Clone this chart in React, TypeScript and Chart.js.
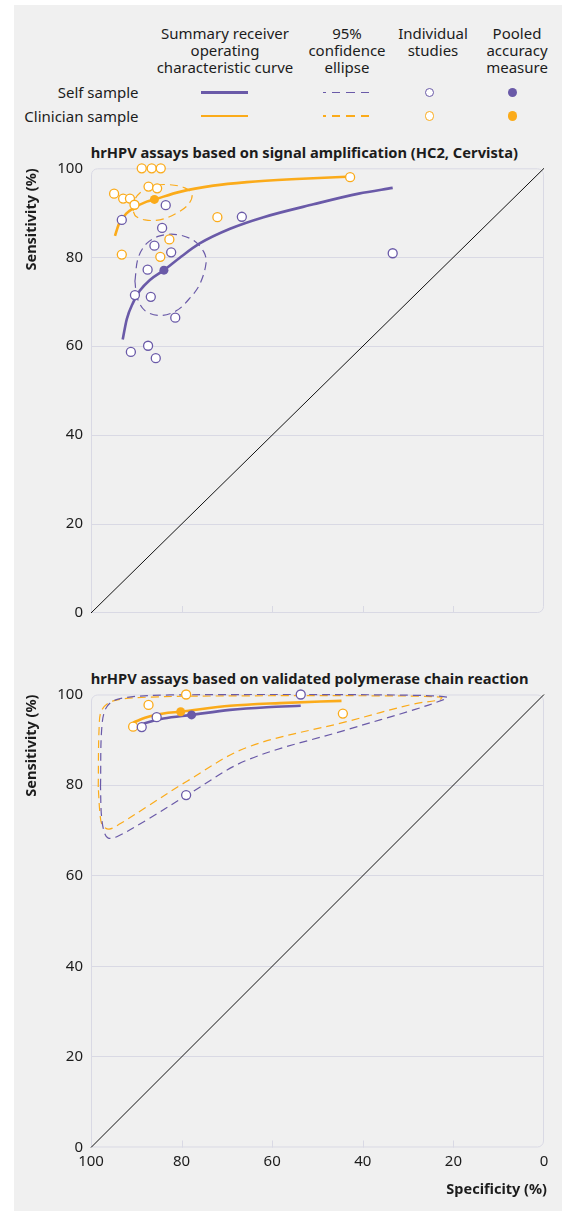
import React, { useEffect, useRef } from "react";
import { Chart, registerables } from "chart.js";

Chart.register(...registerables);

const FONT = "'Noto Sans', sans-serif";
const PURPLE = "#6a5aa8";
const ORANGE = "#fbab1a";
const GRID = "#d9d9e4";
const TEXT = "#1c1c1c";

// ---------- axis ticks ----------
const Y_TICKS_STEP = 20;
const X_INNER_TICKS = [80, 60, 40, 20];

// ---------- chance diagonal ----------
const DIAG_SPEC = [100, 0];
const DIAG_SENS = [0, 100];

// ---------- Panel 1: signal amplification ----------
const SA_CLIN_STUDY_SPEC = [88.8, 86.6, 84.6, 87.3, 85.4, 94.9, 92.9, 91.4, 90.4, 93.2, 82.7, 84.7, 72.1, 42.8];
const SA_CLIN_STUDY_SENS = [100, 100, 100, 95.9, 95.5, 94.3, 93.2, 93.2, 91.8, 80.6, 84.0, 80.1, 89.0, 98.0];
const SA_SELF_STUDY_SPEC = [83.5, 93.2, 66.7, 84.3, 86.0, 82.3, 33.4, 87.5, 90.3, 86.8, 81.4, 91.2, 87.4, 85.7];
const SA_SELF_STUDY_SENS = [91.7, 88.4, 89.1, 86.6, 82.6, 81.1, 80.9, 77.2, 71.5, 71.1, 66.4, 58.7, 60.1, 57.3];
const SA_CLIN_POOLED = [86.0, 93.0];
const SA_SELF_POOLED = [83.9, 77.1];
const SA_CLIN_SROC_SPEC = [94.7, 93.8, 92.1, 90.7, 87.7, 86.0, 80.4, 73.0, 65.6, 54.6, 43.6];
const SA_CLIN_SROC_SENS = [84.8, 87.6, 89.9, 91.0, 92.5, 93.0, 94.7, 96.1, 96.9, 97.6, 98.1];
const SA_SELF_SROC_SPEC = [93.0, 92.1, 90.7, 89.2, 87.0, 83.9, 80.4, 76.0, 69.3, 61.9, 50.9, 40.9, 33.4];
const SA_SELF_SROC_SENS = [61.5, 66.1, 69.8, 72.5, 74.9, 77.1, 79.9, 83.1, 86.4, 89.0, 91.9, 94.3, 95.6];
const SA_CLIN_ELL_SPEC = [90.7, 90.3, 88.8, 86.2, 82.6, 79.3, 77.7, 78.5, 81.1, 84.8, 88.1, 90.1, 90.7];
const SA_CLIN_ELL_SENS = [90.4, 93.0, 94.8, 96.1, 96.3, 95.6, 94.1, 91.9, 89.9, 88.4, 88.4, 89.2, 90.4];
const SA_SELF_ELL_SPEC = [90.3, 89.6, 87.7, 84.8, 81.1, 77.4, 75.1, 74.6, 76.0, 78.1, 81.1, 84.8, 88.1, 89.8, 90.3];
const SA_SELF_ELL_SENS = [74.6, 79.8, 83.1, 84.8, 85.1, 83.8, 81.2, 78.7, 73.9, 70.9, 68.0, 66.9, 68.0, 70.9, 74.6];

// ---------- Panel 2: validated PCR ----------
const PCR_CLIN_STUDY_SPEC = [79.0, 87.3, 90.7, 44.4];
const PCR_CLIN_STUDY_SENS = [100, 97.7, 92.9, 95.8];
const PCR_SELF_STUDY_SPEC = [53.7, 85.5, 88.8, 79.0];
const PCR_SELF_STUDY_SENS = [100, 95.0, 92.8, 77.8];
const PCR_CLIN_POOLED = [80.2, 96.2];
const PCR_SELF_POOLED = [77.8, 95.5];
const PCR_CLIN_SROC_SPEC = [90.7, 87.7, 84.0, 80.2, 69.3, 58.3, 44.7];
const PCR_CLIN_SROC_SENS = [93.8, 95.0, 95.8, 96.2, 97.5, 98.1, 98.6];
const PCR_SELF_SROC_SPEC = [88.8, 84.0, 77.8, 69.3, 61.2, 53.7];
const PCR_SELF_SROC_SENS = [93.5, 94.7, 95.5, 96.6, 97.2, 97.5];
const PCR_CLIN_ELL_SPEC = [98.4, 98.2, 97.6, 95.1, 87.7, 65.6, 36.2, 22.6, 23.2, 28.8, 43.6, 65.6, 78.9, 87.7, 93.5, 96.0, 97.5, 98.0, 98.4];
const PCR_CLIN_ELL_SENS = [79.6, 92.9, 96.6, 98.6, 99.4, 99.7, 99.7, 99.4, 98.8, 97.9, 94.0, 88.3, 80.8, 75.2, 71.5, 70.3, 71.2, 73.5, 79.6];
const PCR_SELF_ELL_SPEC = [97.9, 97.6, 96.5, 93.6, 82.6, 53.9, 27.4, 21.3, 22.3, 28.8, 43.6, 65.6, 78.1, 87.7, 94.3, 96.2, 97.1, 97.7, 97.9];
const PCR_SELF_ELL_SENS = [79.6, 92.9, 97.3, 99.1, 99.9, 100, 99.8, 99.4, 98.8, 96.6, 92.2, 85.5, 78.2, 72.3, 68.6, 68.3, 69.7, 73.4, 79.6];

const pts = (xs: number[], ys: number[]) => xs.map((x, i) => ({ x, y: ys[i] }));

const framePlugin = {
  id: "frame",
  beforeDatasetsDraw(chart: any) {
    const { ctx, chartArea: a, scales } = chart;
    const x = scales.x;
    ctx.save();
    ctx.strokeStyle = GRID;
    ctx.lineWidth = 1;
    ctx.beginPath();
    (ctx as any).roundRect(a.left + 0.5, a.top + 0.5, a.right - a.left - 1, a.bottom - a.top - 1, [6, 6, 6, 0]);
    ctx.stroke();
    ctx.beginPath();
    for (const v of X_INNER_TICKS) {
      const px = Math.round(x.getPixelForValue(v)) + 0.5;
      ctx.moveTo(px, a.bottom);
      ctx.lineTo(px, a.bottom - 7);
    }
    ctx.stroke();
    ctx.restore();
  },
};

interface Panel {
  clinStudy: [number[], number[]];
  selfStudy: [number[], number[]];
  clinPooled: number[];
  selfPooled: number[];
  clinSroc: [number[], number[]];
  selfSroc: [number[], number[]];
  clinEll: [number[], number[]];
  selfEll: [number[], number[]];
}

function buildConfig(p: Panel, showX: boolean): any {
  const lineBase = { showLine: true, pointRadius: 0, clip: false, fill: false };
  return {
    type: "scatter",
    data: {
      datasets: [
        { data: [{ x: p.selfPooled[0], y: p.selfPooled[1] }], backgroundColor: PURPLE, borderWidth: 0, pointRadius: 4.5, clip: false },
        { data: [{ x: p.clinPooled[0], y: p.clinPooled[1] }], backgroundColor: ORANGE, borderWidth: 0, pointRadius: 4.5, clip: false },
        { data: pts(...p.selfStudy), backgroundColor: "#ffffff", borderColor: PURPLE, borderWidth: 1.3, pointRadius: 4.5, clip: false },
        { data: pts(...p.clinStudy), backgroundColor: "#ffffff", borderColor: ORANGE, borderWidth: 1.3, pointRadius: 4.5, clip: false },
        { ...lineBase, data: pts(...p.selfSroc), borderColor: PURPLE, borderWidth: 2.6, cubicInterpolationMode: "monotone" },
        { ...lineBase, data: pts(...p.clinSroc), borderColor: ORANGE, borderWidth: 2.6, cubicInterpolationMode: "monotone" },
        { ...lineBase, data: pts(...p.selfEll), borderColor: PURPLE, borderWidth: 1.2, borderDash: [8, 5], tension: 0.35 },
        { ...lineBase, data: pts(...p.clinEll), borderColor: ORANGE, borderWidth: 1.2, borderDash: [8, 5], tension: 0.35 },
        { ...lineBase, data: pts(DIAG_SPEC, DIAG_SENS), borderColor: "#111111", borderWidth: 1, tension: 0 },
      ],
    },
    options: {
      animation: false,
      responsive: false,
      events: [],
      layout: { padding: { top: showX ? 34.5 : 38.3, right: 18, left: 0, bottom: 0 } },
      plugins: { legend: { display: false }, tooltip: { enabled: false }, title: { display: false } },
      scales: {
        x: {
          type: "linear",
          min: 0,
          max: 100,
          reverse: true,
          grid: { display: false, drawTicks: false },
          border: { display: false },
          ticks: { display: showX, stepSize: Y_TICKS_STEP, padding: 5, color: TEXT, font: { family: FONT, size: 15 } },
          title: { display: false },
          afterFit: (s: any) => {
            s.height = showX ? 63.5 : 8.3;
          },
        },
        y: {
          type: "linear",
          min: 0,
          max: 100,
          grid: {
            drawTicks: false,
            lineWidth: 1,
            color: (c: any) => (c.tick && c.tick.value > 0 && c.tick.value < 100 ? GRID : "rgba(0,0,0,0)"),
          },
          border: { display: false },
          ticks: { stepSize: Y_TICKS_STEP, padding: 8, color: TEXT, font: { family: FONT, size: 15 } },
          title: {
            display: true,
            text: "Sensitivity (%)",
            align: "end",
            color: TEXT,
            font: { family: FONT, size: 14.5, weight: "bold" },
            padding: { top: 23.6, bottom: 0 },
          },
          afterFit: (s: any) => {
            s.width = 91;
          },
        },
      },
    },
    plugins: [framePlugin],
  };
}

const PANEL_SA: Panel = {
  clinStudy: [SA_CLIN_STUDY_SPEC, SA_CLIN_STUDY_SENS],
  selfStudy: [SA_SELF_STUDY_SPEC, SA_SELF_STUDY_SENS],
  clinPooled: SA_CLIN_POOLED,
  selfPooled: SA_SELF_POOLED,
  clinSroc: [SA_CLIN_SROC_SPEC, SA_CLIN_SROC_SENS],
  selfSroc: [SA_SELF_SROC_SPEC, SA_SELF_SROC_SENS],
  clinEll: [SA_CLIN_ELL_SPEC, SA_CLIN_ELL_SENS],
  selfEll: [SA_SELF_ELL_SPEC, SA_SELF_ELL_SENS],
};

const PANEL_PCR: Panel = {
  clinStudy: [PCR_CLIN_STUDY_SPEC, PCR_CLIN_STUDY_SENS],
  selfStudy: [PCR_SELF_STUDY_SPEC, PCR_SELF_STUDY_SENS],
  clinPooled: PCR_CLIN_POOLED,
  selfPooled: PCR_SELF_POOLED,
  clinSroc: [PCR_CLIN_SROC_SPEC, PCR_CLIN_SROC_SENS],
  selfSroc: [PCR_SELF_SROC_SPEC, PCR_SELF_SROC_SENS],
  clinEll: [PCR_CLIN_ELL_SPEC, PCR_CLIN_ELL_SENS],
  selfEll: [PCR_SELF_ELL_SPEC, PCR_SELF_ELL_SENS],
};

const abs = (s: React.CSSProperties): React.CSSProperties => ({ position: "absolute", ...s });

function Header({ cx, lines }: { cx: number; lines: string[] }) {
  return (
    <div style={abs({ left: cx - 90, top: 24.5, width: 180, textAlign: "center", fontSize: 15, lineHeight: "17px", color: TEXT })}>
      {lines.map((l, i) => (
        <div key={i}>{l}</div>
      ))}
    </div>
  );
}

function Dashes({ y, color }: { y: number; color: string }) {
  const segs: [number, number][] = [
    [322.7, 3],
    [331.7, 8.5],
    [346.2, 8.5],
    [360.7, 8.5],
  ];
  return (
    <>
      {segs.map(([l, w], i) => (
        <div key={i} style={abs({ left: l, top: y - 0.8, width: w, height: 1.6, background: color })} />
      ))}
    </>
  );
}

function Circle({ cx, cy, color, filled }: { cx: number; cy: number; color: string; filled: boolean }) {
  const d = filled ? 9.2 : 9.4;
  return (
    <div
      style={abs({
        left: cx - d / 2,
        top: cy - d / 2,
        width: d,
        height: d,
        boxSizing: "border-box",
        borderRadius: "50%",
        background: filled ? color : "#ffffff",
        border: filled ? "none" : `1.3px solid ${color}`,
      })}
    />
  );
}

export default function App() {
  const topRef = useRef<HTMLCanvasElement>(null);
  const botRef = useRef<HTMLCanvasElement>(null);

  useEffect(() => {
    const c1 = new Chart(topRef.current as HTMLCanvasElement, buildConfig(PANEL_SA, false));
    const c2 = new Chart(botRef.current as HTMLCanvasElement, buildConfig(PANEL_PCR, true));
    return () => {
      c1.destroy();
      c2.destroy();
    };
  }, []);

  const titleStyle = (top: number): React.CSSProperties =>
    abs({ left: 90.7, top, fontSize: 14.7, fontWeight: 700, lineHeight: "18px", color: TEXT, whiteSpace: "nowrap" });

  return (
    <div style={abs({ left: 0, top: 0, width: 562, height: 1211, fontFamily: FONT, overflow: "hidden" })}>
      <div style={abs({ left: 14, top: 5, width: 548, height: 1206, background: "#f0f0f0" })} />

      <Header cx={225} lines={["Summary receiver", "operating", "characteristic curve"]} />
      <Header cx={347} lines={["95%", "confidence", "ellipse"]} />
      <Header cx={433} lines={["Individual", "studies"]} />
      <Header cx={517} lines={["Pooled", "accuracy", "measure"]} />

      <div style={abs({ left: 0, width: 138.5, top: 84, textAlign: "right", fontSize: 15, lineHeight: "17px", color: TEXT })}>Self sample</div>
      <div style={abs({ left: 0, width: 138.5, top: 108, textAlign: "right", fontSize: 15, lineHeight: "17px", color: TEXT })}>Clinician sample</div>

      <div style={abs({ left: 201, top: 91, width: 47, height: 2.6, background: PURPLE })} />
      <div style={abs({ left: 201, top: 114.7, width: 47, height: 2.6, background: ORANGE })} />
      <Dashes y={92.3} color={PURPLE} />
      <Dashes y={116} color={ORANGE} />
      <Circle cx={429.3} cy={92.3} color={PURPLE} filled={false} />
      <Circle cx={429.3} cy={116} color={ORANGE} filled={false} />
      <Circle cx={512.7} cy={92.3} color={PURPLE} filled={true} />
      <Circle cx={512.7} cy={116} color={ORANGE} filled={true} />

      <div style={titleStyle(143)}>hrHPV assays based on signal amplification (HC2, Cervista)</div>
      <div style={titleStyle(669)}>hrHPV assays based on validated polymerase chain reaction</div>

      <canvas ref={topRef} width={562} height={500} style={abs({ left: 0, top: 130, display: "block" })} />
      <canvas ref={botRef} width={562} height={551} style={abs({ left: 0, top: 660, display: "block" })} />

      <div style={abs({ left: 347, width: 200, top: 1179, textAlign: "right", fontSize: 14.5, fontWeight: 700, lineHeight: "18px", color: TEXT })}>
        Specificity (%)
      </div>
    </div>
  );
}
